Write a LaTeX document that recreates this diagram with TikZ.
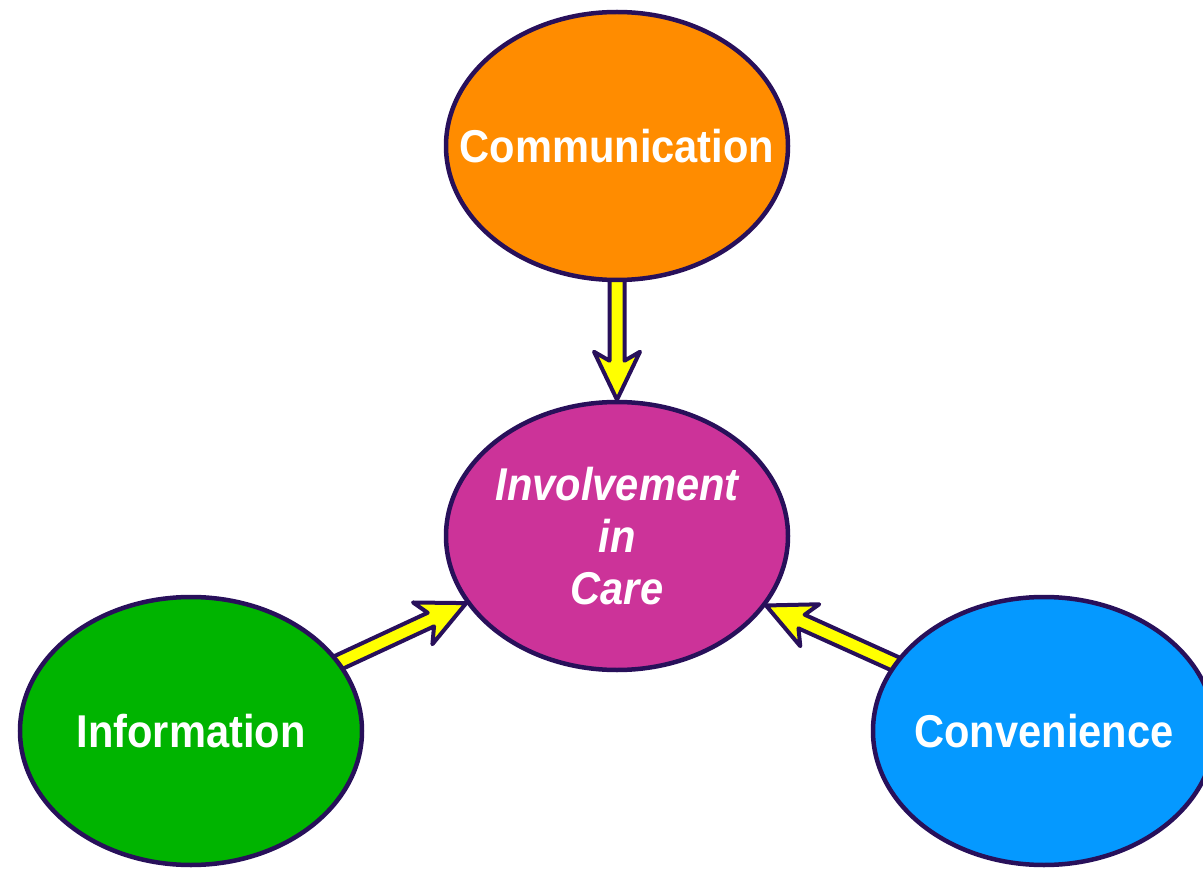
\documentclass[tikz,border=0pt]{standalone}
\usepackage{fontspec}
\setmainfont[FakeStretch=0.905]{Liberation Sans}
\usetikzlibrary{shapes.geometric,calc}
\definecolor{outlinecol}{RGB}{40,16,90}
\definecolor{commcol}{RGB}{255,140,0}
\definecolor{invcol}{RGB}{204,51,153}
\definecolor{infocol}{RGB}{0,180,0}
\definecolor{convcol}{RGB}{5,153,255}
\definecolor{arrowyellow}{RGB}{255,255,0}
\pgfdeclarelayer{background}
\pgfsetlayers{background,main}
\tikzset{
  bubble/.style={ellipse, draw=outlinecol, line width=4.5pt, inner sep=0pt,
    minimum width=342pt, minimum height=268pt, text=white,
    font=\fontsize{46}{52}\selectfont\bfseries},
  fatarrowstyle/.style={fill=arrowyellow, draw=outlinecol, line width=4pt, line join=round}
}
\newcommand\fatarrow[2]{%
  \filldraw[fatarrowstyle]
    ($(#1)!7.5pt!90:(#2)$) --
    ($($(#2)!39pt!(#1)$)!7.5pt!90:(#2)$) --
    ($($(#2)!48pt!(#1)$)!23pt!90:(#2)$) --
    (#2) --
    ($($(#2)!48pt!(#1)$)!23pt!-90:(#2)$) --
    ($($(#2)!39pt!(#1)$)!7.5pt!-90:(#2)$) --
    ($(#1)!7.5pt!-90:(#2)$) -- cycle;}
\begin{document}
\begin{tikzpicture}[x=1pt,y=-1pt]
  \useasboundingbox (0,0) rectangle (1203,869);
  \node[bubble, fill=commcol] (comm) at (617,146) {\makebox[0pt]{Communication}};
  \node[bubble, fill=invcol] (inv) at (617,536)
    {\makebox[0pt]{\raisebox{-6pt}[\height][\depth]{\itshape\begin{tabular}{@{}c@{}}Involvement\\in\\Care\end{tabular}}}};
  \node[bubble, fill=infocol] (info) at (191,731) {\makebox[0pt]{Information}};
  \node[bubble, fill=convcol] (conv) at (1044,731) {\makebox[0pt]{Convenience}};
  \begin{pgfonlayer}{background}
    \fatarrow{comm}{inv.north}
    \fatarrow{info}{inv.204.6}
    \fatarrow{conv}{inv.335.4}
  \end{pgfonlayer}
\end{tikzpicture}
\end{document}
